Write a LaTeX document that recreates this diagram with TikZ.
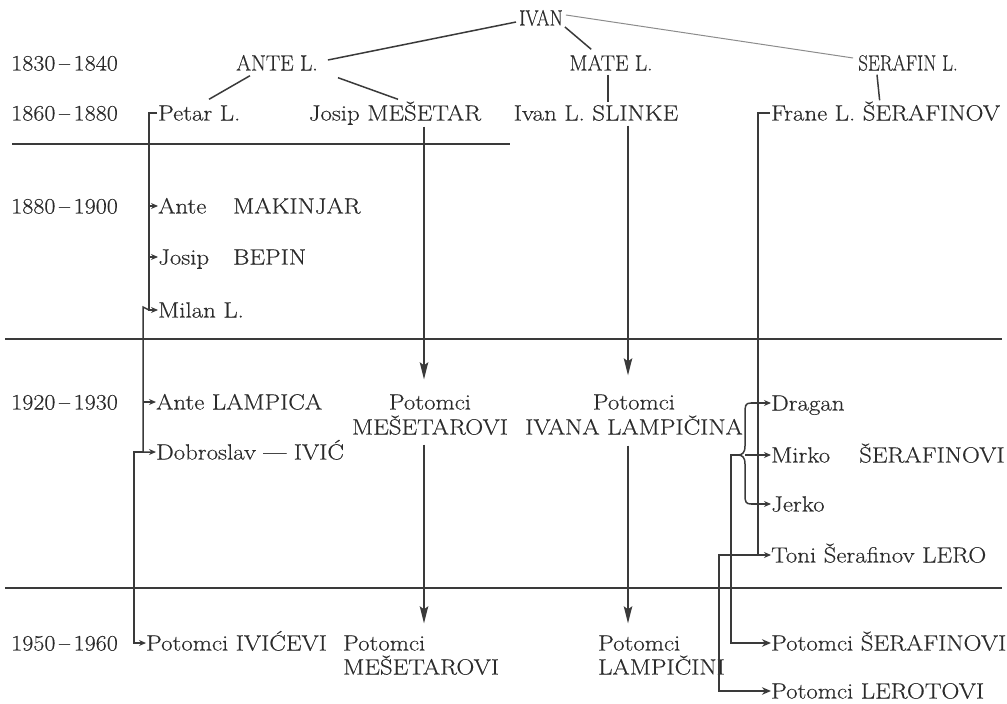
\documentclass[tikz,border=0pt]{standalone}
\usepackage{fontspec}
\setmainfont{Latin Modern Roman}[FakeStretch=1.13,FakeBold=0.4]
\usetikzlibrary{arrows.meta,calc}
\definecolor{ink}{HTML}{2B2B2B}
\definecolor{rule}{HTML}{3A3A3A}
\newcommand{\yr}[2]{\scalebox{0.97}[1]{#1\,–\,#2}}
\begin{document}
\begin{tikzpicture}[x=1pt,y=-1pt,
  txt/.style={inner sep=0pt, text height=15pt, text depth=0pt, anchor=west,
              font=\fontsize{22}{26}\selectfont, text=ink},
  ctr/.style={txt, anchor=center},
  conn/.style={draw=rule, line width=1.5pt},
  hrule/.style={draw=rule, line width=1.1pt},
  sarr/.style={conn, -{Stealth[length=7pt,width=6pt]}},
  marr/.style={conn, -{Stealth[length=9pt,width=7.5pt]}},
  barr/.style={conn, -{Stealth[length=17pt,width=8.5pt,inset=3pt]}}]
\useasboundingbox (0,0) rectangle (1007,704);

% year labels
\node[txt] (y1) at (11,63)  {\yr{1830}{1840}};
\node[txt] (y2) at (11,113) {\yr{1860}{1880}};
\node[txt] (y3) at (11,206) {\yr{1880}{1900}};
\node[txt] (y4) at (11,402) {\yr{1920}{1930}};
\node[txt] (y5) at (11,643) {\yr{1950}{1960}};

% top tree
\node[ctr] (ivan) at (541,18) {\scalebox{0.76}[1]{IVAN}};
\node[ctr] (ante) at (277,63) {\scalebox{0.86}[1]{ANTE L.}};
\node[ctr] (mate) at (611,63) {\scalebox{0.86}[1]{MATE L.}};
\node[ctr] (serafin) at (908,63) {\scalebox{0.76}[1]{SERAFIN L.}};

% 1860-1880
\node[txt] (petar) at (158,113) {Petar L.};
\node[ctr] (josip) at (395,113) {Josip MEŠETAR};
\node[ctr] (slinke) at (596,113) {Ivan L. SLINKE};
\node[txt] (frane) at (771,113) {Frane L. ŠERAFINOV};

% left column
\node[txt] (makinjar) at (158,206) {\makebox[75pt][l]{Ante}MAKINJAR};
\node[txt] (bepin) at (158,257) {\makebox[75pt][l]{Josip}BEPIN};
\node[txt] (milan) at (158,310) {Milan L.};
\node[txt] (lampica) at (156,402) {Ante LAMPICA};
\node[txt] (dobro) at (156,452) {Dobroslav — IVIĆ};
\node[txt] (ivicevi) at (146,643) {Potomci IVIĆEVI};

% middle columns
\node[ctr] (mesA) at (430,402) {Potomci};
\node[ctr] (mesB) at (430,427) {MEŠETAROVI};
\node[ctr] (lamA) at (634,402) {Potomci};
\node[ctr] (lamB) at (634,427) {IVANA LAMPIČINA};
\node[txt] (mesC) at (343,643) {Potomci};
\node[txt] (mesD) at (343,667) {MEŠETAROVI};
\node[txt] (lamC) at (598,643) {Potomci};
\node[txt] (lamD) at (598,667) {LAMPIČINI};

% right column
\node[txt] (dragan) at (771,403) {Dragan};
\node[txt] (mirko) at (771,455) {\makebox[88pt][l]{Mirko}ŠERAFINOVI};
\node[txt] (jerko) at (771,504) {Jerko};
\node[txt] (toni) at (771,555) {Toni Šerafinov LERO};
\node[txt] (potser) at (771,643) {Potomci ŠERAFINOVI};
\node[txt] (potler) at (771,691) {Potomci LEROTOVI};

% horizontal rules
\draw[hrule] (12,144) -- (510,144);
\draw[hrule] (5,339) -- (1002,339);
\draw[hrule] (5,588) -- (1002,588);

% top connectors
\draw[conn] ($(ivan.west)+(-3,4)$) -- ($(ante.east)+(10,-3)$);
\draw[conn] ($(ivan.east)+(2,9)$) -- ($(mate.north west)+(22,-6)$);
\draw[draw=black!45, line width=1pt] ($(ivan.east)+(3,-3)$) -- ($(serafin.west)+(-5,-5)$);
\draw[conn] ($(ante.south)+(-27,5)$) -- ($(petar.north west)+(51,-6)$);
\draw[conn] ($(ante.south)+(61,7)$) -- ($(josip.north)+(3,-6)$);
\draw[conn] ($(mate.south)+(-3,4)$) -- ($(slinke.north)+(12,-3)$);
\draw[conn] ($(serafin.south)+(-31,4)$) -- ($(frane.north)+(-6,-5)$);

% middle arrows
\coordinate (cM) at (424,0);
\coordinate (cL) at (628,0);
\draw[barr] ($(josip.south -| cM)+(0,6)$) -- ($(mesA.north -| cM)+(0,-15)$);
\draw[barr] ($(mesB.south -| cM)+(0,10)$) -- ($(mesC.north -| cM)+(0,-12)$);
\draw[barr] ($(slinke.south -| cL)+(0,5)$) -- ($(lamA.north -| cL)+(0,-19)$);
\draw[barr] ($(lamB.south -| cL)+(0,11)$) -- ($(lamC.north -| cL)+(0,-12)$);

% left column connectors
\coordinate (xP) at (149,0);
\coordinate (xM) at (143,0);
\coordinate (xD) at (134,0);
\draw[sarr] ($(petar.west)+(-1,0)$) -- (petar.west -| xP) -- (milan.west -| xP) -- (milan.west);
\draw[sarr] (makinjar.west -| xP) -- (makinjar.west);
\draw[sarr] (bepin.west -| xP) -- (bepin.west);
\draw[sarr] (milan.west -| xP) -- ($(milan.west -| xM)+(0,-3)$) -- (dobro.west -| xM) -- (dobro.west);
\draw[sarr] (lampica.west -| xM) -- (lampica.west);
\draw[sarr] (dobro.west -| xM) -- (dobro.west -| xD) -- (ivicevi.west -| xD) -- (ivicevi.west);

% right column connectors
\coordinate (xF) at (758,0);
\coordinate (xS) at (731,0);
\coordinate (xL) at (719,0);
\draw[sarr] ($(frane.west)+(-1,0)$) -- (frane.west -| xF) -- (toni.west -| xF) -- (toni.west);
\coordinate (bT) at (751,403);
\coordinate (bB) at (751,504);
\coordinate (bC) at (738,455);
\draw[conn] (bT) .. controls (745,403) and (745,406) .. (745,414) -- (745,446)
  .. controls (745,453) and (742,455) .. (bC)
  .. controls (742,455) and (745,457) .. (745,464) -- (745,495)
  .. controls (745,502) and (746,504) .. (bB);
\draw[sarr] (bT) -- (dragan.west);
\draw[sarr] (745,455) -- (mirko.west);
\draw[sarr] (bB) -- (jerko.west);
\draw[marr] (bC) -- (bC -| xS) -- (potser.west -| xS) -- (potser.west);
\draw[marr] (toni.west -| xF) -- (toni.west -| xL) -- (potler.west -| xL) -- (potler.west);
\end{tikzpicture}
\end{document}
